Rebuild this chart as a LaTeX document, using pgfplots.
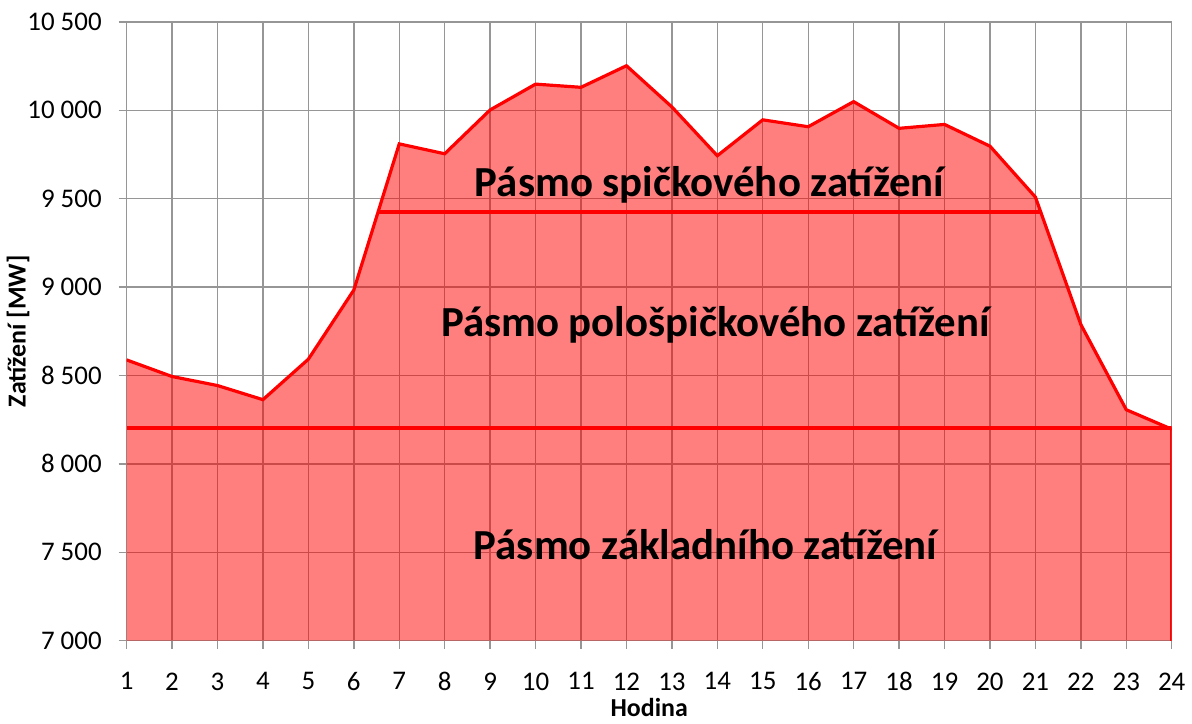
\documentclass[border=0pt]{standalone}
\usepackage{fontspec}
\setmainfont{Carlito}
\usepackage{pgfplots}
\pgfplotsset{compat=1.18}
\usepackage{pgfplotstable}
\pgfplotstableread{
x y
1 8588
2 8494
3 8443
4 8363
5 8592
6 8983
7 9810
8 9754
9 10002
10 10148
11 10130
12 10252
13 10019
14 9743
15 9946
16 9907
17 10049
18 9898
19 9920
20 9797
21 9509
22 8788
23 8306
24 8196
}\load
\definecolor{gridgray}{RGB}{150,150,150}
\begin{document}
\begin{tikzpicture}
\begin{axis}[
  scale only axis, width=524.5pt, height=310.5pt,
  xmin=1, xmax=24, ymin=7000, ymax=10500,
  xtick={1,...,24}, ytick={7000,7500,...,10500},
  grid=major, grid style={color=gridgray, line width=0.7pt},
  axis line style={gridgray, line width=0.7pt},
  tick style={gridgray, line width=0.7pt},
  tick align=outside, major tick length=4pt,
  tick pos=left,
  scaled y ticks=false,
  /pgf/number format/assume math mode=true,
  /pgf/number format/1000 sep={\ },
  ticklabel style={font=\fontsize{13.5}{16}\selectfont},
  yticklabel style={xshift=-5pt},
  xticklabel style={yshift=-8.5pt},
  xlabel={Hodina}, ylabel={Zatížení [MW]},
  label style={font=\fontsize{13}{15}\selectfont\bfseries},
  xlabel style={at={(axis description cs:0.5,0)}, anchor=center, yshift=-33.5pt},
  ylabel style={at={(axis description cs:0,0.5)}, anchor=center, yshift=54.5pt},
]
\addplot[draw=none, fill=red, fill opacity=0.5] table[x=x,y=y]{\load} \closedcycle;
\addplot[red, line width=1.6pt, mark=none] table[x=x,y=y]{\load};
\addplot[red, line width=1.6pt, mark=none] coordinates {(24,8196) (24,7000)};
\addplot[red, line width=2pt, mark=none] coordinates {(1,8200) (24,8200)};
\addplot[red, line width=2pt, mark=none] coordinates {(6.55,9425) (21.1,9425)};
\node[font=\fontsize{21.5}{25}\selectfont\bfseries, anchor=base] at (axis cs:13.83,9514) {Pásmo spičkového zatížení};
\node[font=\fontsize{21.5}{25}\selectfont\bfseries, anchor=base] at (axis cs:13.96,8719) {Pásmo pološpičkového zatížení};
\node[font=\fontsize{21.5}{25}\selectfont\bfseries, anchor=base] at (axis cs:13.74,7460) {Pásmo základního zatížení};
\end{axis}
\path ([shift={(-63.5pt,-39.5pt)}]current axis.south west) rectangle ([shift={(8pt,11pt)}]current axis.north east);
\end{tikzpicture}
\end{document}
